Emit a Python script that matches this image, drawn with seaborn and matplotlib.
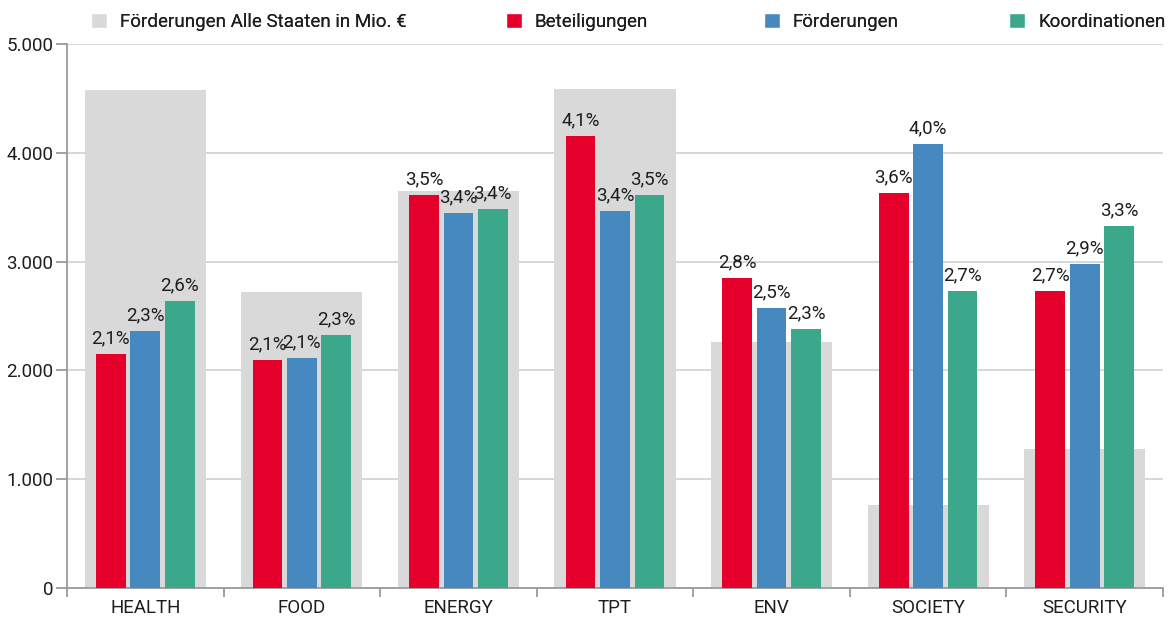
import matplotlib
matplotlib.use("Agg")
import matplotlib.pyplot as plt
import matplotlib.ticker as mticker
from matplotlib.patches import Patch
import seaborn as sns
import pandas as pd

categories = ["HEALTH", "FOOD", "ENERGY", "TPT", "ENV", "SOCIETY", "SECURITY"]
alle_staaten = [4577, 2721, 3649, 4586, 2261, 763, 1278]
beteiligungen = [2151, 2096, 3612, 4154, 2849, 3630, 2730]
foerderungen = [2362, 2114, 3447, 3465, 2574, 4081, 2978]
koordinationen = [2638, 2325, 3483, 3612, 2381, 2730, 3327]
beteiligungen_lbl = ["2,1%", "2,1%", "3,5%", "4,1%", "2,8%", "3,6%", "2,7%"]
foerderungen_lbl = ["2,3%", "2,1%", "3,4%", "3,4%", "2,5%", "4,0%", "2,9%"]
koordinationen_lbl = ["2,6%", "2,3%", "3,4%", "3,5%", "2,3%", "2,7%", "3,3%"]
series_names = ["Beteiligungen", "Förderungen", "Koordinationen"]
legend_total = "Förderungen Alle Staaten in Mio. €"
yticks = [0, 1000, 2000, 3000, 4000, 5000]

C_GREY = "#d9d9d9"
C_RED = "#e4002b"
C_BLUE = "#4589c0"
C_GREEN = "#3ba88b"
TXT = "#1e1e1e"
AX = "#9a9a9a"
FS = 13.5

sns.set_theme(style="white")
plt.rcParams["font.family"] = ["Roboto", "DejaVu Sans"]
plt.rcParams["text.color"] = TXT

W, H = 1169, 618
fig = plt.figure(figsize=(W / 100, H / 100), dpi=100)
ax = fig.add_axes([67 / W, 1 - 588 / H, (1163 - 67) / W, (588 - 44) / H])

df_tot = pd.DataFrame({"cat": categories, "val": alle_staaten})
sns.barplot(data=df_tot, x="cat", y="val", color=C_GREY, width=0.773,
            saturation=1, ax=ax, zorder=2, linewidth=0, edgecolor="none")

df = pd.DataFrame({
    "cat": categories * 3,
    "val": beteiligungen + foerderungen + koordinationen,
    "series": [series_names[0]] * 7 + [series_names[1]] * 7 + [series_names[2]] * 7,
})
sns.barplot(data=df, x="cat", y="val", hue="series", hue_order=series_names,
            palette=[C_RED, C_BLUE, C_GREEN], width=0.66, gap=0.14,
            saturation=1, ax=ax, legend=False, zorder=3, linewidth=0, edgecolor="none")

for cont, lbls in zip(ax.containers[1:], [beteiligungen_lbl, foerderungen_lbl, koordinationen_lbl]):
    ax.bar_label(cont, labels=lbls, padding=5, fontsize=FS, color=TXT)

ax.set_xlim(-0.5, len(categories) - 0.5)
ax.set_ylim(0, 5000)
ax.set_yticks(yticks)
ax.yaxis.set_major_formatter(mticker.FuncFormatter(lambda v, p: f"{int(v):,}".replace(",", ".")))
ax.set_xlabel("")
ax.set_ylabel("")
ax.grid(axis="y", color="#d4d4d4", linewidth=1.3, zorder=0)
ax.set_axisbelow(True)
for s in ["top", "right"]:
    ax.spines[s].set_visible(False)
for s in ["left", "bottom"]:
    ax.spines[s].set_color(AX)
    ax.spines[s].set_linewidth(1.3)
ax.tick_params(axis="y", length=8, width=1.3, color=AX, pad=2, labelsize=FS, labelcolor=TXT, left=True)
ax.tick_params(axis="x", which="major", length=0, pad=8, labelsize=FS, labelcolor=TXT, bottom=True)
ax.set_xticks([i - 0.5 for i in range(len(categories) + 1)], minor=True)
ax.tick_params(axis="x", which="minor", length=6.5, width=1.3, color=AX, bottom=True)

handles = [Patch(facecolor=C_GREY, label=legend_total),
           Patch(facecolor=C_RED, label=series_names[0]),
           Patch(facecolor=C_BLUE, label=series_names[1]),
           Patch(facecolor=C_GREEN, label=series_names[2])]
marker_left = [91, 506, 764, 1009]
em_px = FS * 100 / 72
for h, xl in zip(handles, marker_left):
    lg = fig.legend(handles=[h], loc="center left", bbox_to_anchor=(xl / W, 1 - 22 / H),
                    frameon=False, fontsize=FS, handlelength=16 / em_px, handleheight=16 / em_px,
                    handletextpad=13 / em_px, borderpad=0, borderaxespad=0)
    fig.add_artist(lg)

fig.savefig("out.png", dpi=100)
